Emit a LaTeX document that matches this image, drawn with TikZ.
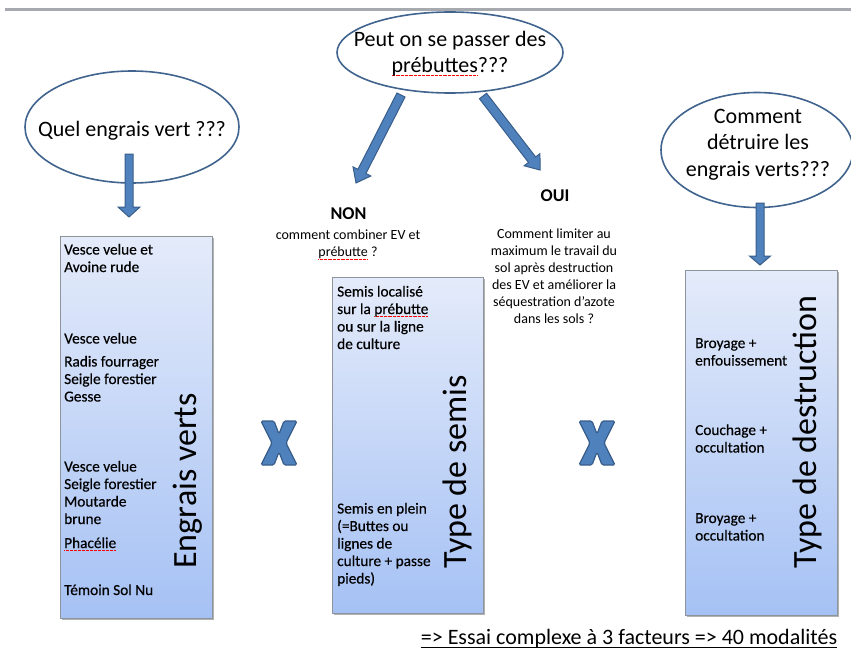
\documentclass[tikz,border=0pt]{standalone}
\usepackage{fontspec}
\setmainfont{Carlito}
\newfontfamily\boxfont[FakeBold=0.4]{Carlito}
\usetikzlibrary{shapes.geometric,calc,shadows}
\definecolor{ellblue}{HTML}{41648F}
\definecolor{arrfill}{HTML}{4F81BD}
\definecolor{arrline}{HTML}{385D8A}
\definecolor{boxtop}{HTML}{E4EBFA}
\definecolor{boxbot}{HTML}{A5C1F4}
\definecolor{boxline}{HTML}{8E949C}
\definecolor{topline}{HTML}{A6A9AD}
\newsavebox\sqbox
\newcommand\sq[1]{\sbox\sqbox{#1}\rlap{\textcolor{red}{\lower2.6pt\hbox to \wd\sqbox{\xleaders\hbox{\rule{0.8pt}{0.6pt}\kern0.5pt}\hfill}}}#1}
\newcommand\ulx[1]{\sbox\sqbox{#1}\rlap{\lower4pt\hbox{\rule{\wd\sqbox}{1.3pt}}}#1}
\newcommand\blockarrow[5]{%
  \path (#2) coordinate (ba-tip) ($(#2)!#5!(#1)$) coordinate (ba-h);
  \draw[barrow] ($(#1)!#3!90:(#2)$) -- ($(ba-h)!#3!90:(ba-tip)$) -- ($(ba-h)!#4!90:(ba-tip)$) -- (ba-tip)
    -- ($(ba-h)!#4!-90:(ba-tip)$) -- ($(ba-h)!#3!-90:(ba-tip)$) -- ($(#1)!#3!-90:(#2)$) -- cycle;}
\newcommand\xmark[1]{%
  \draw[xshape, shift={(#1)}] (-18,-22) -- (-5,-22) -- (0,-9) -- (5,-22) -- (18,-22) -- (7,0)
    -- (18,22) -- (5,22) -- (0,9) -- (-5,22) -- (-18,22) -- (-7,0) -- cycle;}
\tikzset{
  ell/.style={ellipse, draw=ellblue, line width=1.6pt, fill=white, inner sep=0pt},
  etxt/.style={inner sep=0pt, anchor=base, align=center, font=\fontsize{22}{26.5}\selectfont},
  barrow/.style={fill=arrfill, draw=arrline, line width=1pt, line join=miter},
  gbox/.style={rectangle, draw=boxline, line width=0.8pt, top color=boxtop, bottom color=boxbot,
    inner sep=0pt, anchor=north west,
    drop shadow={shadow xshift=1.5pt, shadow yshift=-1.5pt, opacity=0.3, fill=black}},
  btxt/.style={inner sep=0pt, anchor=base west, align=left, font=\boxfont\fontsize{15.3}{17.5}\selectfont},
  qtxt/.style={inner sep=0pt, anchor=base, align=center, font=\fontsize{14}{17}\selectfont},
  yn/.style={inner sep=0pt, anchor=base, font=\fontsize{18}{22}\selectfont\bfseries},
  big/.style={inner sep=0pt, rotate=90, anchor=base, font=\fontsize{34}{40}\selectfont},
  xshape/.style={fill=arrfill, draw=arrline, line width=1.2pt, rounded corners=1.5pt},
}
\begin{document}
\begin{tikzpicture}[x=1pt,y=-1pt]
\useasboundingbox (0,0) rectangle (851,650);
% top rule
\coordinate (tl1) at (5,10);
\coordinate (tl2) at (851,10);
\draw[topline, line width=3pt] (tl1) -- (tl2);

% boxes
\node[gbox, minimum width=152, minimum height=382] (b1) at (60,236) {};
\node[gbox, minimum width=151, minimum height=336] (b2) at (332,277) {};
\node[gbox, minimum width=152, minimum height=345] (b3) at (685,270) {};

% arrows
\coordinate (a1s) at (129,154);
\coordinate (a1e) at (129,217);
\coordinate (a2s) at (760,203);
\coordinate (a2e) at (760,265);
\coordinate (a3s) at (401,95);
\coordinate (a3e) at (356,183);
\coordinate (a4s) at (483,96);
\coordinate (a4e) at (540,170);

% ellipses
\node[ell, minimum width=226, minimum height=81] (q2) at (450,52.5) {};
\node[ell, minimum width=214, minimum height=112] (q1) at (132,127) {};
\node[ell, minimum width=192, minimum height=115] (q3) at (757,150) {};
\node[etxt] (q2t) at (450,73) {Peut on se passer des\\\sq{prébuttes}???};
\node[etxt] (q1t) at (132,136) {Quel engrais vert ???};
\node[etxt] (q3t) at (758,176) {Comment\\détruire les\\engrais verts???};

\blockarrow{a1s}{a1e}{4pt}{11pt}{10pt}
\blockarrow{a2s}{a2e}{4pt}{10.5pt}{9pt}
\blockarrow{a3s}{a3e}{4.5pt}{10pt}{13pt}
\blockarrow{a4s}{a4e}{4.5pt}{10pt}{13pt}

% left box texts (base = last line baseline)
\node[btxt] (l1) at (64,272) {Vesce velue et\\Avoine rude};
\node[btxt] (l2) at (64,343.5) {Vesce velue};
\node[btxt] (l3) at (64,401.5) {Radis fourrager\\Seigle forestier\\Gesse};
\node[btxt] (l4) at (64,524) {Vesce velue\\Seigle forestier\\Moutarde\\brune};
\node[btxt] (l5) at (64,548) {\sq{Phacélie}};
\node[btxt] (l6) at (64,595) {Témoin Sol Nu};
\node[big] (t1) at (196,481) {Engrais verts};

% middle box texts
\node[btxt] (m1) at (337,349) {Semis localisé\\sur la \sq{prébutte}\\ou sur la ligne\\de culture};
\node[btxt] (m2) at (337,583.5) {Semis en plein\\(=Buttes ou\\lignes de\\culture + passe\\pieds)};
\node[big] (t2) at (466,472) {Type de semis};

% right box texts
\node[btxt] (r1) at (695,365.5) {Broyage +\\enfouissement};
\node[btxt] (r2) at (695,452.5) {Couchage +\\occultation};
\node[btxt] (r3) at (695,540.5) {Broyage +\\occultation};
\node[big] (t3) at (816,432) {Type de destruction};

% NON / OUI
\node[yn] (non) at (348.5,219.5) {NON};
\node[qtxt] (nonq) at (348,256.5) {comment combiner EV et\\\sq{prébutte} ?};
\node[yn] (oui) at (555,201.5) {OUI};
\node[qtxt] (ouiq) at (554,323) {Comment limiter au\\maximum le travail du\\sol après destruction\\des EV et améliorer la\\séquestration d’azote\\dans les sols ?};

% X marks
\coordinate (x1) at (279,443);
\coordinate (x2) at (597,443);
\xmark{x1}
\xmark{x2}

% bottom text
\node[inner sep=0pt, anchor=base, font=\fontsize{22}{26}\selectfont] (concl) at (629,644)
  {\ulx{=> Essai complexe à 3 facteurs => 40 modalités}};
\end{tikzpicture}
\end{document}
